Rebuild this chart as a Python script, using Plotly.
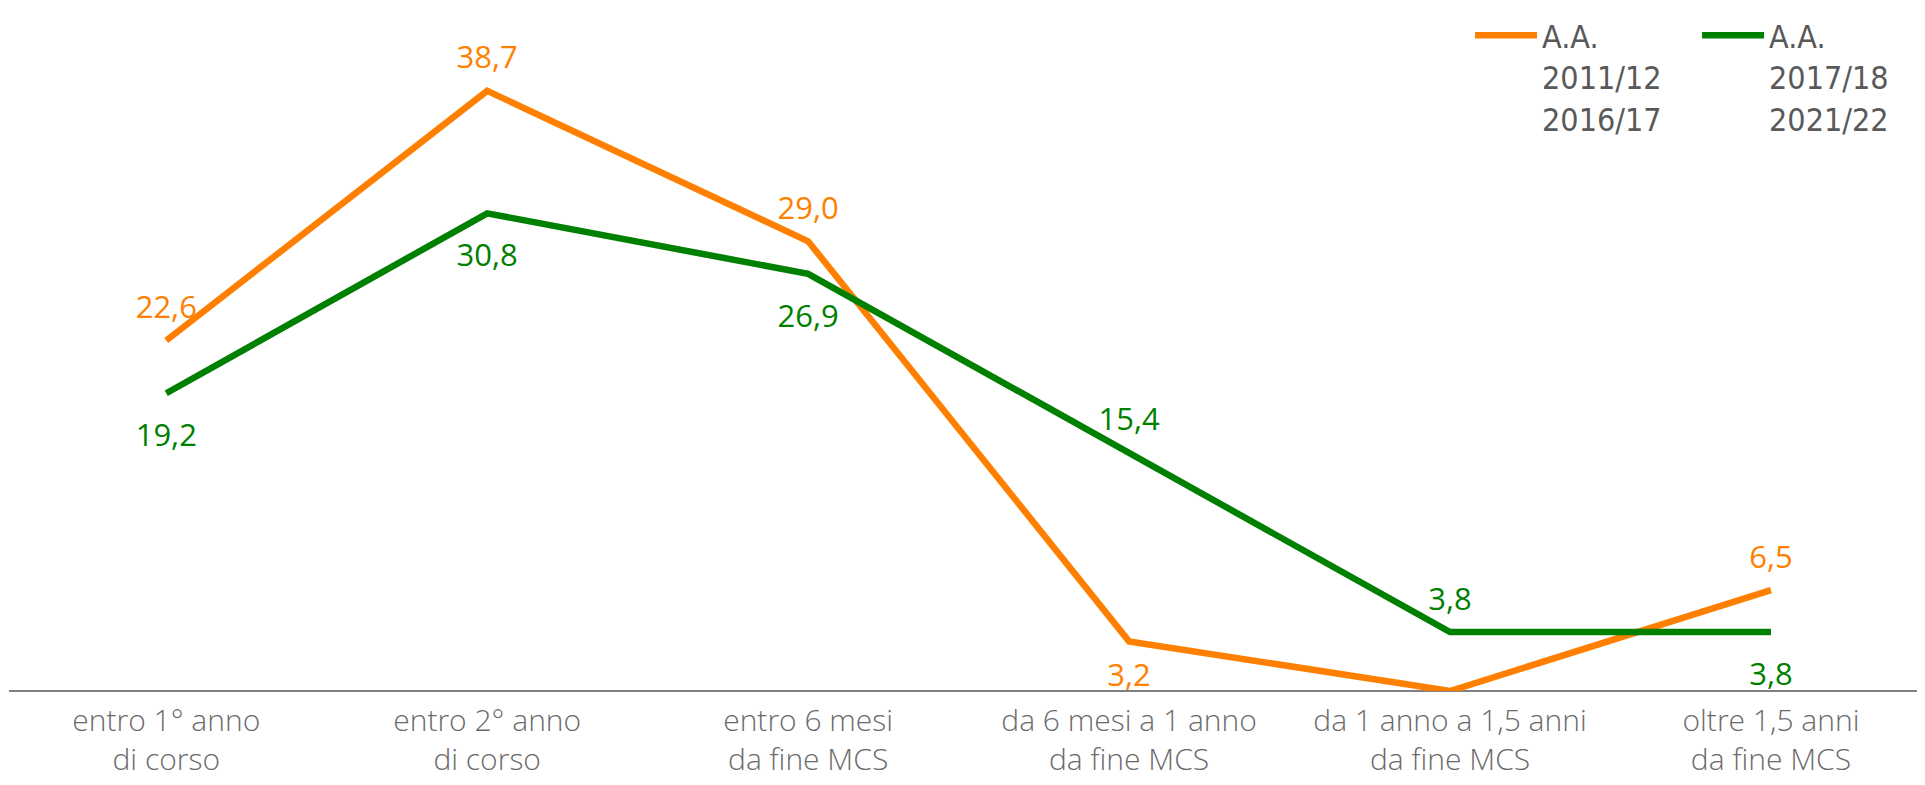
import plotly.graph_objects as go

categories = [
    "entro 1° anno<br>di corso",
    "entro 2° anno<br>di corso",
    "entro 6 mesi<br>da fine MCS",
    "da 6 mesi a 1 anno<br>da fine MCS",
    "da 1 anno a 1,5 anni<br>da fine MCS",
    "oltre 1,5 anni<br>da fine MCS",
]
series_names = ["A.A.<br>2011/12<br>2016/17", "A.A.<br>2017/18<br>2021/22"]
orange_vals = [22.6, 38.7, 29.0, 3.2, 0.0, 6.5]
green_vals = [19.2, 30.8, 26.9, 15.4, 3.8, 3.8]
orange_labels = ["22,6", "38,7", "29,0", "3,2", "", "6,5"]
green_labels = ["19,2", "30,8", "26,9", "15,4", "3,8", "3,8"]
orange_pos = ["top center", "top center", "top center", "bottom center", "top center", "top center"]
green_pos = ["bottom center", "bottom center", "bottom center", "top center", "top center", "bottom center"]
# invisible marker sizes only used to space labels from the line
orange_gap = [22, 22, 22, 32, 22, 22]
green_gap = [46, 46, 46, 22, 22, 46]

ORANGE = "#FF8000"
GREEN = "#008000"
label_font = "Open Sans, Noto Sans, sans-serif"
narrow_font = "Liberation Sans Narrow, DejaVu Sans Condensed, Roboto, sans-serif"
tick_font = "Open Sans, Lato, sans-serif"

xs = list(range(len(categories)))
fig = go.Figure()
series = [
    (orange_vals, orange_labels, orange_pos, orange_gap, ORANGE, series_names[0]),
    (green_vals, green_labels, green_pos, green_gap, GREEN, series_names[1]),
]
for vals, labels, pos, gap, color, name in series:
    fig.add_trace(go.Scatter(
        x=xs, y=vals, mode="lines", name=name,
        line=dict(color=color, width=6.5),
        cliponaxis=False, hoverinfo="skip",
    ))
for vals, labels, pos, gap, color, name in series:
    fig.add_trace(go.Scatter(
        x=xs, y=vals, mode="markers+text", showlegend=False,
        text=labels, textposition=pos,
        marker=dict(size=gap, opacity=0, color=color),
        textfont=dict(color=color, size=31, family=label_font),
        cliponaxis=False, hoverinfo="skip",
    ))

fig.update_layout(
    width=1925, height=785,
    margin=dict(l=1, r=8, t=0, b=102),
    plot_bgcolor="white", paper_bgcolor="white",
    showlegend=True,
    legend=dict(
        orientation="h", x=0.9995, y=1.0, xanchor="right", yanchor="top",
        valign="top", itemwidth=62, entrywidth=150, entrywidthmode="pixels",
        font=dict(family=narrow_font, size=32, color="#595959"),
        bgcolor="rgba(0,0,0,0)", itemclick=False,
    ),
    xaxis=dict(
        range=[-0.49, 5.48], tickmode="array",
        tickvals=xs, ticktext=categories,
        showgrid=False, zeroline=False, showline=False, ticks="",
        ticklabelstandoff=9,
        tickfont=dict(family=tick_font, size=30, color="#6b6b6b", weight=300),
        fixedrange=True,
    ),
    yaxis=dict(
        range=[0, 44.04], showgrid=False, zeroline=True, zerolinecolor="#808080",
        zerolinewidth=2, showticklabels=False, showline=False, ticks="",
        fixedrange=True,
    ),
)

fig.write_html("out.html")
